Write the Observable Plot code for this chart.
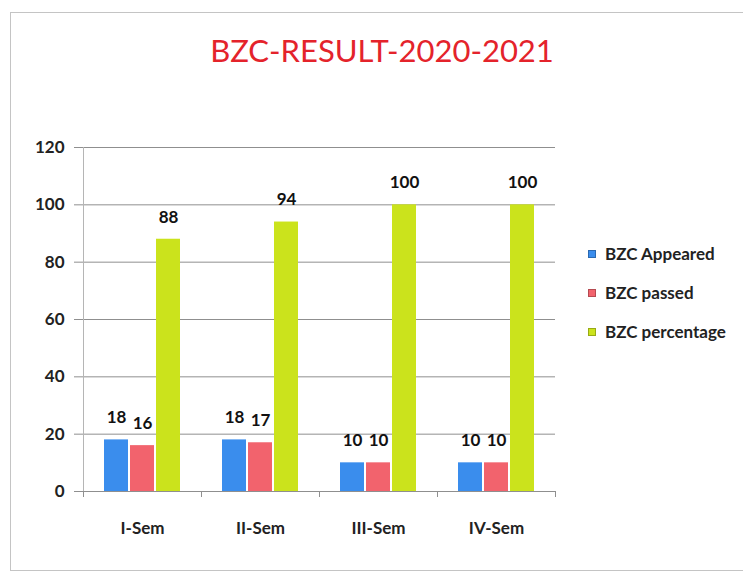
<!DOCTYPE html>
<html><head><meta charset="utf-8">
<script src="https://cdn.jsdelivr.net/npm/d3@7"></script>
<script src="https://cdn.jsdelivr.net/npm/@observablehq/plot@0.6"></script>
<style>
html,body{margin:0;padding:0;background:#fff;}
body{width:743px;height:573px;position:relative;overflow:hidden;font-family:Lato,"Open Sans",sans-serif;}
#border{position:absolute;left:10px;top:12px;width:780px;height:557px;border:1px solid #c4c4c4;}
#title{position:absolute;left:0;top:32px;width:764px;text-align:center;font-size:31px;line-height:36px;color:#e4232b;}
#chart{position:absolute;left:0;top:0;}
#legend{position:absolute;left:588px;top:234px;}
.row{display:flex;align-items:center;height:39px;font-size:17px;font-weight:700;color:#222;}
.sw{width:8px;height:8px;margin-right:9px;box-sizing:border-box;border:1px solid rgba(0,0,0,0.25);}
</style></head><body>
<div id="border"></div>
<div id="title">BZC-RESULT-2020-2021</div>
<div id="chart"></div>
<div id="legend"></div>
<script>
const semesters = ["I-Sem","II-Sem","III-Sem","IV-Sem"];
const series = ["BZC Appeared","BZC passed","BZC percentage"];
const appeared = [18,18,10,10];
const passed = [16,17,10,10];
const percentage = [88,94,100,100];
const yTicks = [0,20,40,60,80,100,120];
const colors = ["#3a8ded","#f2636d","#cbe31c"];

const rows = [];
semesters.forEach((s,i)=>{ [appeared,passed,percentage].forEach((arr,j)=> rows.push({sem:s, series:series[j], value:arr[i]})); });

const plot = Plot.plot({
  width: 580, height: 560,
  marginLeft: 82, marginRight: 24, marginTop: 147, marginBottom: 69,
  style: {fontFamily: "Lato, sans-serif", background: "transparent"},
  fx: {domain: semesters, paddingInner: 0, paddingOuter: 0, label: null},
  x: {domain: series, paddingInner: 0.08, paddingOuter: 0.735, axis: null},
  y: {domain: [0,120], label: null},
  color: {domain: series, range: colors},
  marks: [
    Plot.ruleY(yTicks, {stroke: "#8f8f8f", strokeWidth: 1}),
    Plot.frame({anchor: "left", facetAnchor: "left", stroke: "#b5b5b5", insetBottom: -5}),
    Plot.frame({anchor: "left", stroke: "#8f8f8f", insetTop: 344, insetBottom: -5}),
    Plot.frame({anchor: "right", facetAnchor: "right", stroke: "#8f8f8f", insetTop: 344, insetBottom: -5}),
    Plot.axisY({ticks: yTicks, tickSize: 9, stroke: "#8f8f8f", tickPadding: 10, fontSize: 17, fontWeight: 700, fill: "#222", label: null}),
    Plot.axisFx({anchor: "bottom", tickSize: 0, tickPadding: 30, fontSize: 17, fontWeight: 700, fill: "#222", label: null}),
    Plot.barY(rows, {fx: "sem", x: "series", y: "value", fill: "series"}),
    Plot.text(rows, {fx: "sem", x: "series", y: "value", text: d => String(d.value), dy: -22, fontSize: 17, fontWeight: 700, fill: "#111"})
  ]
});
document.getElementById("chart").appendChild(plot);

const legend = document.getElementById("legend");
series.forEach((s,i)=>{
  const r = document.createElement("div"); r.className = "row";
  const sw = document.createElement("span"); sw.className = "sw"; sw.style.background = colors[i];
  const t = document.createElement("span"); t.textContent = s;
  r.appendChild(sw); r.appendChild(t); legend.appendChild(r);
});
</script>
</body></html>
